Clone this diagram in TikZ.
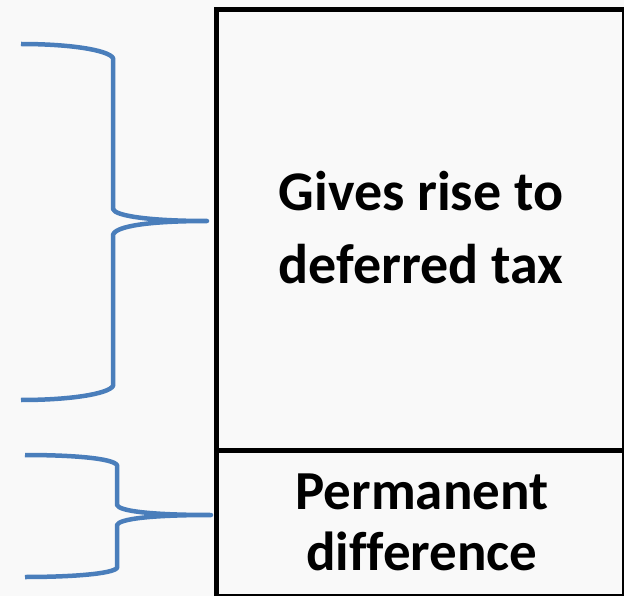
\documentclass[tikz,border=0pt]{standalone}
\usepackage{fontspec}
\setmainfont{Carlito}[Ligatures=NoCommon]
\definecolor{bracecol}{RGB}{74,126,187}
\definecolor{bgcol}{RGB}{249,249,249}
\tikzset{
  bracestyle/.style={draw=bracecol, line width=4.5pt, line cap=butt, line join=round},
  boxline/.style={draw=black, line width=5pt},
  lbl/.style={align=center, font=\bfseries, text=black, inner sep=0pt}
}
\begin{document}
\begin{tikzpicture}[x=1pt,y=-1pt]
\useasboundingbox (0,0) rectangle (624,596);
\fill[bgcol] (0,0) rectangle (624,596);
\begin{scope}
\clip (0,0) rectangle (624,596);
\draw[boxline] (216,10) rectangle (624,596);
\draw[boxline] (216,450) -- (624,450);
\end{scope}
% labels
\node[lbl, font=\bfseries\fontsize{56}{73}\selectfont] (top) at (421,228) {Gives rise to\\deferred tax};
\node[lbl, font=\bfseries\fontsize{55}{61}\selectfont] (bot) at (422,522) {Permanent\\difference};
% upper brace
\draw[bracestyle] (21,44) .. controls (70,44) and (108,50) .. (113,58)
  -- (113,209) .. controls (115,216) and (150,221) .. (207,221)
  .. controls (150,221) and (115,226) .. (113,235)
  -- (113,386) .. controls (108,394) and (70,400) .. (21,400);
% lower brace
\draw[bracestyle] (25,455) .. controls (70,455) and (112,458) .. (117,465)
  -- (117,505) .. controls (119,511) and (150,515) .. (211,515)
  .. controls (150,515) and (119,519) .. (117,525)
  -- (117,568) .. controls (112,574) and (70,577) .. (25,577);
\end{tikzpicture}
\end{document}
